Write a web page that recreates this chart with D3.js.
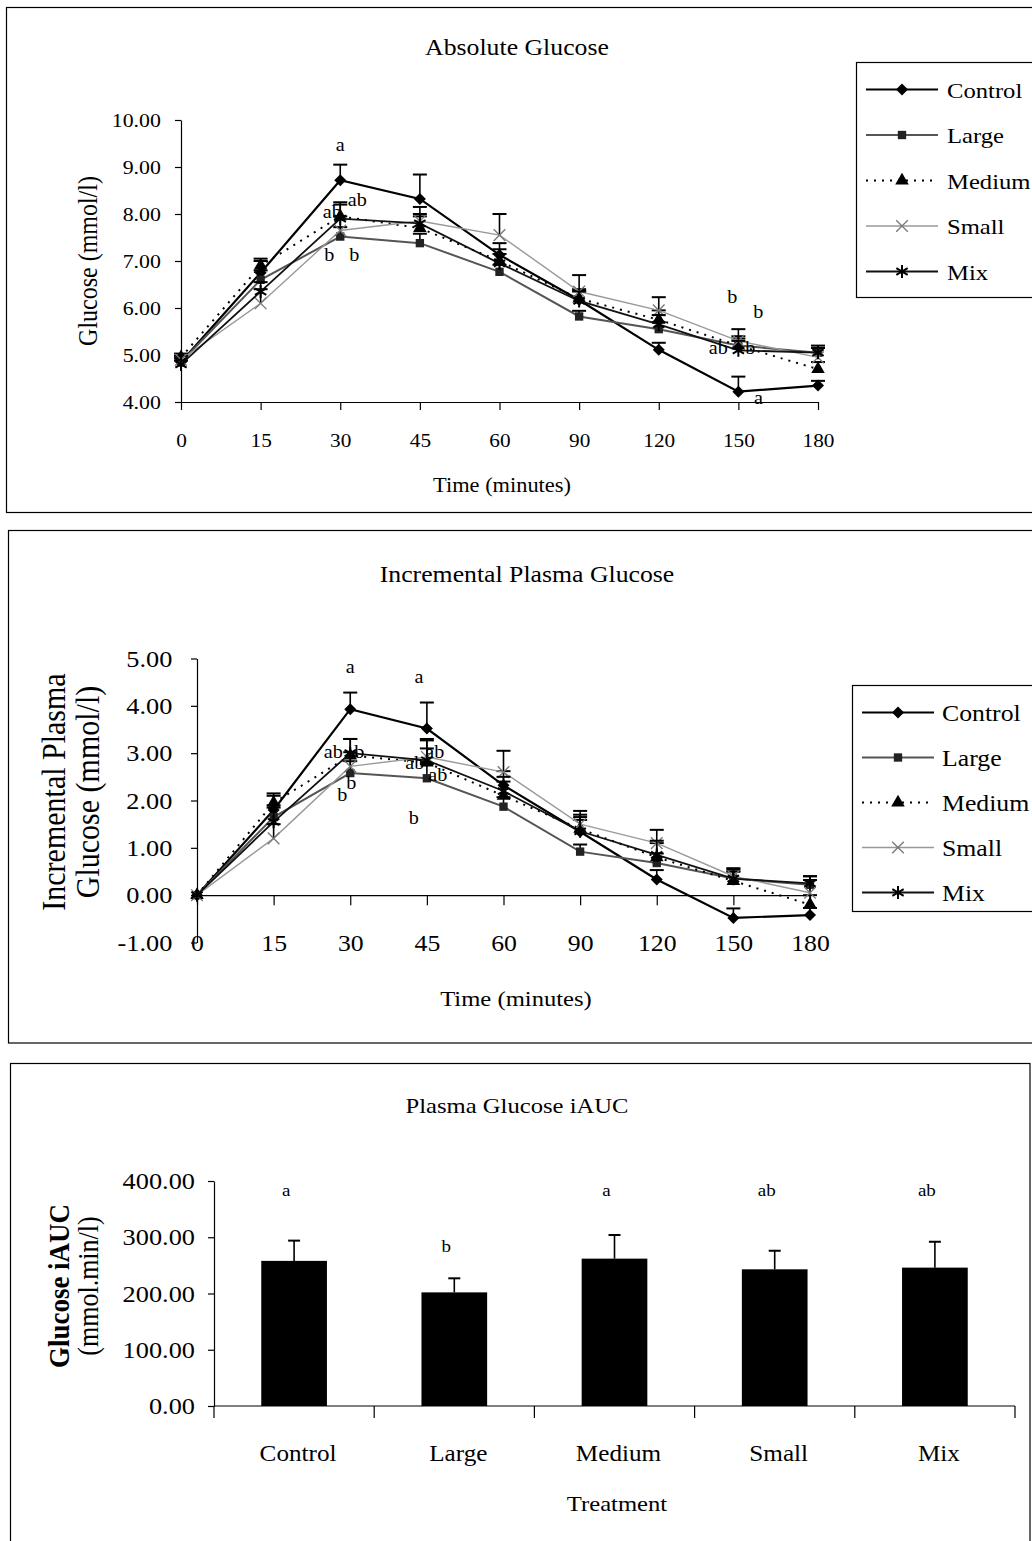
<!DOCTYPE html>
<html>
<head>
<meta charset="utf-8">
<script src="https://cdn.jsdelivr.net/npm/d3@7"></script>
<style>
  body { margin: 0; background: #fff; }
  svg { display: block; font-family: "Liberation Serif", "Times New Roman", serif; }
</style>
</head>
<body>
<div id="chart"></div>
<script>
// time points and treatments
var times = ["0", "15", "30", "45", "60", "90", "120", "150", "180"];
var groups = ["Control", "Large", "Medium", "Small", "Mix"];

// absolute glucose (mmol/l) and upper error
var absControl = [4.85, 6.75, 8.72, 8.32, 7.13, 6.17, 5.11, 4.22, 4.35];
var absLarge   = [4.85, 6.60, 7.52, 7.38, 6.77, 5.82, 5.55, 5.20, 5.05];
var absMedium  = [4.95, 6.90, 7.95, 7.70, 7.00, 6.20, 5.75, 5.20, 4.70];
var absSmall   = [4.90, 6.10, 7.65, 7.85, 7.55, 6.35, 5.95, 5.30, 4.95];
var absMix     = [4.80, 6.35, 7.90, 7.80, 6.95, 6.15, 5.65, 5.10, 5.05];
var absErrControl = [0.08, 0.25, 0.33, 0.52, 0.25, 0.20, 0.15, 0.32, 0.10];
var absErrLarge   = [0.08, 0.20, 0.20, 0.20, 0.15, 0.12, 0.15, 0.15, 0.10];
var absErrMedium  = [0.08, 0.15, 0.30, 0.25, 0.25, 0.20, 0.20, 0.20, 0.15];
var absErrSmall   = [0.08, 0.30, 0.30, 0.30, 0.45, 0.35, 0.28, 0.25, 0.20];
var absErrMix     = [0.08, 0.20, 0.30, 0.20, 0.20, 0.20, 0.20, 0.20, 0.15];

// incremental glucose (mmol/l) and upper error
var incControl = [0, 1.80, 3.93, 3.52, 2.32, 1.34, 0.33, -0.48, -0.42];
var incLarge   = [0, 1.65, 2.58, 2.47, 1.87, 0.92, 0.68, 0.35, 0.22];
var incMedium  = [0, 1.95, 2.95, 2.80, 2.10, 1.40, 0.80, 0.30, -0.20];
var incSmall   = [0, 1.20, 2.72, 2.92, 2.60, 1.50, 1.10, 0.40, 0.05];
var incMix     = [0, 1.55, 3.00, 2.85, 2.20, 1.35, 0.85, 0.35, 0.25];
var incErrControl = [0, 0.30, 0.35, 0.55, 0.30, 0.25, 0.20, 0.20, 0.15];
var incErrLarge   = [0, 0.25, 0.25, 0.30, 0.20, 0.15, 0.20, 0.15, 0.10];
var incErrMedium  = [0, 0.20, 0.35, 0.30, 0.30, 0.30, 0.30, 0.20, 0.20];
var incErrSmall   = [0, 0.30, 0.30, 0.35, 0.45, 0.28, 0.28, 0.17, 0.35];
var incErrMix     = [0, 0.30, 0.30, 0.45, 0.30, 0.30, 0.30, 0.20, 0.15];

// iAUC (mmol.min/l)
var iaucMean = [258, 202, 262, 243, 246];
var iaucErr  = [36, 25, 42, 33, 46];
var iaucLetters = ["a", "b", "a", "ab", "ab"];
var iaucLetterAt = [384, 283, 384, 384, 384];

// significance letters: [time, value, text]
var absLetters = [["30", 9.47, "a"], ["30", 8.30, "ab"], ["30", 8.04, "ab"], ["30", 7.13, "b"], ["30", 7.13, "b"],
                  ["150", 6.23, "b"], ["150", 5.91, "b"], ["150", 5.15, "ab"], ["150", 5.15, "b"], ["150", 4.09, "a"]];
var absLetterDx = [0, 17, -8, -11, 14, -6, 20, -20, 12, 20];
var incLetters = [["30", 4.82, "a"], ["45", 4.61, "a"], ["30", 3.02, "ab"], ["30", 3.02, "b"], ["30", 2.37, "b"],
                  ["30", 2.11, "b"], ["45", 2.79, "ab"], ["45", 3.02, "ab"], ["45", 2.54, "ab"], ["45", 1.63, "b"]];
var incLetterDx = [0, -8, -17, 9, 1, -8, -12, 8, 11, -13];

var absTicks = [4, 5, 6, 7, 8, 9, 10];
var incTicks = [-1, 0, 1, 2, 3, 4, 5];
var iaucTicks = [0, 100, 200, 300, 400];

var SX = 1.12; // text is a bit wide in the scan

var style = {
    Control: { stroke: "#000", width: 2.2, dash: null, sym: "diamond", fill: "#000" },
    Large:   { stroke: "#555", width: 2, dash: null, sym: "square", fill: "#222" },
    Medium:  { stroke: "#000", width: 2, dash: "2,6", sym: "triangle", fill: "#000" },
    Small:   { stroke: "#999", width: 1.4, dash: null, sym: "times", fill: "none" },
    Mix:     { stroke: "#111", width: 1.8, dash: null, sym: "asterisk", fill: "none" }
};

var svg = d3.select("#chart").append("svg")
    .attr("width", 1032)
    .attr("height", 1541);

function txt(g, s, x, y, size, anchor) {
    return g.append("text")
        .attr("transform", "translate(" + x + "," + y + ") scale(" + SX + ",1)")
        .attr("text-anchor", anchor || "middle")
        .attr("font-size", size)
        .attr("fill", "#000")
        .text(s);
}

function vtxt(g, s, x, y, size) {
    return g.append("text")
        .attr("transform", "translate(" + x + "," + y + ") rotate(-90) scale(1," + SX + ")")
        .attr("text-anchor", "middle")
        .attr("dominant-baseline", "central")
        .attr("font-size", size)
        .attr("fill", "#000")
        .text(s);
}

function marker(g, name, x, y) {
    var st = style[name];
    var p;
    if (st.sym == "diamond") {
        p = g.append("path").attr("d", d3.symbol(d3.symbolSquare, 72)())
            .attr("transform", "translate(" + x + "," + y + ") rotate(45)");
    } else if (st.sym == "square") {
        p = g.append("path").attr("d", d3.symbol(d3.symbolSquare, 70)())
            .attr("transform", "translate(" + x + "," + y + ")");
    } else if (st.sym == "triangle") {
        p = g.append("path").attr("d", d3.symbol(d3.symbolTriangle, 80)())
            .attr("transform", "translate(" + x + "," + y + ")");
    } else if (st.sym == "times") {
        p = g.append("path").attr("d", d3.symbol(d3.symbolTimes, 90)())
            .attr("transform", "translate(" + x + "," + y + ")");
    } else {
        p = g.append("path").attr("d", d3.symbol(d3.symbolAsterisk, 120)())
            .attr("transform", "translate(" + x + "," + y + ")");
    }
    if (st.fill == "none") {
        p.attr("fill", "none").attr("stroke", st.sym == "times" ? "#777" : "#000")
            .attr("stroke-width", st.sym == "times" ? 1.3 : 2);
    } else {
        p.attr("fill", st.fill).attr("stroke", "none");
    }
}

function styleAxis(a, size) {
    a.attr("font-family", null).attr("font-size", null);
    a.selectAll("path, line").attr("stroke", "#000").attr("stroke-width", 1.2);
    a.selectAll("text").attr("font-size", size).attr("fill", "#000")
        .attr("transform", "scale(" + SX + ",1)");
}

function legend(g, x0, y0, h, step, lx0, lx1, tx, size) {
    g.append("rect").attr("x", x0).attr("y", y0).attr("width", 220).attr("height", h)
        .attr("fill", "#fff").attr("stroke", "#000").attr("stroke-width", 1.2);
    groups.forEach(function (name, i) {
        var st = style[name];
        var yy = y0 + 27 + i * step;
        g.append("line").attr("x1", lx0).attr("x2", lx1).attr("y1", yy).attr("y2", yy)
            .attr("stroke", st.stroke).attr("stroke-width", st.width)
            .attr("stroke-dasharray", st.dash);
        marker(g, name, (lx0 + lx1) / 2, yy);
        txt(g, name, tx, yy + 8, size, "start");
    });
}

function linePanel(o) {
    var x = d3.scalePoint().domain(times).range(o.xr);
    var y = d3.scaleLinear().domain(o.yd).range(o.yr);
    var g = svg.append("g");

    var ya = g.append("g")
        .attr("transform", "translate(" + o.xr[0] + ",0)")
        .call(d3.axisLeft(y).tickValues(o.yticks).tickSize(6).tickSizeOuter(0)
            .tickPadding(o.ypad).tickFormat(function (d) { return d.toFixed(2); }));
    styleAxis(ya, o.ysize);

    var xa = g.append("g")
        .attr("transform", "translate(0," + y(o.xAt) + ")")
        .call(d3.axisBottom(x).tickSize(o.xtick).tickSizeOuter(0).tickPadding(o.xpad));
    styleAxis(xa, o.xsize);

    var line = d3.line()
        .x(function (d, i) { return x(times[i]); })
        .y(function (d) { return y(d); });

    groups.forEach(function (name, k) {
        var st = style[name];
        var vals = o.series[k];
        var errs = o.errors[k];
        g.append("path").datum(vals)
            .attr("d", line)
            .attr("fill", "none")
            .attr("stroke", st.stroke)
            .attr("stroke-width", st.width)
            .attr("stroke-dasharray", st.dash);
        vals.forEach(function (v, i) {
            if (!errs[i]) return;
            var xx = x(times[i]);
            g.append("line").attr("x1", xx).attr("x2", xx)
                .attr("y1", y(v)).attr("y2", y(v + errs[i]))
                .attr("stroke", "#000").attr("stroke-width", 1.6);
            g.append("line").attr("x1", xx - 7).attr("x2", xx + 7)
                .attr("y1", y(v + errs[i])).attr("y2", y(v + errs[i]))
                .attr("stroke", "#000").attr("stroke-width", 2);
        });
        vals.forEach(function (v, i) {
            marker(g, name, x(times[i]), y(v));
        });
    });

    o.letters.forEach(function (l, i) {
        txt(g, l[2], x(l[0]) + o.letterDx[i], y(l[1]), 18, "middle")
            .attr("dominant-baseline", "central");
    });
    return g;
}

// ---------- panel 1: absolute glucose
svg.append("rect").attr("x", 6.5).attr("y", 7.5).attr("width", 1040).attr("height", 505)
    .attr("fill", "none").attr("stroke", "#000").attr("stroke-width", 1.2);

var p1 = linePanel({
    xr: [181, 818], yd: [4, 10], yr: [402, 120], yticks: absTicks, xAt: 4,
    ypad: 12, ysize: 19.5, xtick: 8, xpad: 24, xsize: 19,
    series: [absControl, absLarge, absMedium, absSmall, absMix],
    errors: [absErrControl, absErrLarge, absErrMedium, absErrSmall, absErrMix],
    letters: absLetters, letterDx: absLetterDx
});
txt(p1, "Absolute Glucose", 517, 55, 23);
txt(p1, "Time (minutes)", 502, 492, 20);
vtxt(p1, "Glucose (mmol/l)", 88, 261, 24);
legend(p1, 856.5, 62.5, 235, 45.5, 866, 938, 947, 22);

// ---------- panel 2: incremental glucose
svg.append("rect").attr("x", 8.5).attr("y", 530.5).attr("width", 1040).attr("height", 512.5)
    .attr("fill", "none").attr("stroke", "#000").attr("stroke-width", 1.2);

var p2 = linePanel({
    xr: [197, 810], yd: [-1, 5], yr: [942.5, 658.5], yticks: incTicks, xAt: 0,
    ypad: 16, ysize: 23.5, xtick: 10, xpad: 30, xsize: 23,
    series: [incControl, incLarge, incMedium, incSmall, incMix],
    errors: [incErrControl, incErrLarge, incErrMedium, incErrSmall, incErrMix],
    letters: incLetters, letterDx: incLetterDx
});
txt(p2, "Incremental Plasma Glucose", 527, 582, 23);
txt(p2, "Time (minutes)", 516, 1006, 22);
svg.append("clipPath").attr("id", "clip2").append("rect")
    .attr("x", 0).attr("y", 673).attr("width", 200).attr("height", 300);
var t2 = p2.append("g").attr("clip-path", "url(#clip2)");
vtxt(t2, "Incremental Plasma", 54, 792, 30);
vtxt(p2, "Glucose  (mmol/l)", 88, 792, 30);
legend(p2, 852.5, 685.5, 226, 45, 862, 934, 942, 23);

// ---------- panel 3: iAUC bars
svg.append("rect").attr("x", 10.5).attr("y", 1063.5).attr("width", 1019.5).attr("height", 500)
    .attr("fill", "none").attr("stroke", "#000").attr("stroke-width", 1.2);

var p3 = svg.append("g");
var xb = d3.scaleBand().domain(groups).range([214, 1015]).paddingInner(0.59).paddingOuter(0.295);
var yb = d3.scaleLinear().domain([0, 400]).range([1406, 1181]);

var ya3 = p3.append("g").attr("transform", "translate(214,0)")
    .call(d3.axisLeft(yb).tickValues(iaucTicks).tickSize(6).tickSizeOuter(0).tickPadding(11)
        .tickFormat(function (d) { return d.toFixed(2); }));
styleAxis(ya3, 23.5);

p3.selectAll("rect.bar").data(iaucMean).enter().append("rect")
    .attr("class", "bar")
    .attr("x", function (d, i) { return xb(groups[i]); })
    .attr("width", xb.bandwidth())
    .attr("y", function (d) { return yb(d); })
    .attr("height", function (d) { return yb(0) - yb(d); })
    .attr("fill", "#000");

iaucMean.forEach(function (d, i) {
    var cx = xb(groups[i]) + xb.bandwidth() / 2;
    p3.append("line").attr("x1", cx).attr("x2", cx)
        .attr("y1", yb(d)).attr("y2", yb(d + iaucErr[i])).attr("stroke", "#000").attr("stroke-width", 1.6);
    p3.append("line").attr("x1", cx - 6).attr("x2", cx + 6)
        .attr("y1", yb(d + iaucErr[i])).attr("y2", yb(d + iaucErr[i])).attr("stroke", "#000").attr("stroke-width", 2);
    txt(p3, iaucLetters[i], cx - 8, yb(iaucLetterAt[i]), 17).attr("dominant-baseline", "central");
    txt(p3, groups[i], cx + 4, 1461, 22.5);
});

// x axis line and category boundary ticks
p3.append("line").attr("x1", 214).attr("x2", 1015).attr("y1", yb(0)).attr("y2", yb(0))
    .attr("stroke", "#000").attr("stroke-width", 1.2);
d3.range(groups.length + 1).forEach(function (i) {
    var xx = 214 + i * xb.step();
    p3.append("line").attr("x1", xx).attr("x2", xx).attr("y1", yb(0)).attr("y2", yb(0) + 12)
        .attr("stroke", "#000").attr("stroke-width", 1.2);
});

txt(p3, "Plasma Glucose iAUC", 517, 1113, 22);
txt(p3, "Treatment", 617, 1511, 22);
svg.append("clipPath").attr("id", "clip3").append("rect")
    .attr("x", 0).attr("y", 1203).attr("width", 200).attr("height", 200);
var t3 = p3.append("g").attr("clip-path", "url(#clip3)");
vtxt(t3, "Glucose iAUC", 58, 1286, 27).attr("font-weight", "bold");
vtxt(p3, "(mmol.min/l)", 88, 1286, 26);
</script>
</body>
</html>
